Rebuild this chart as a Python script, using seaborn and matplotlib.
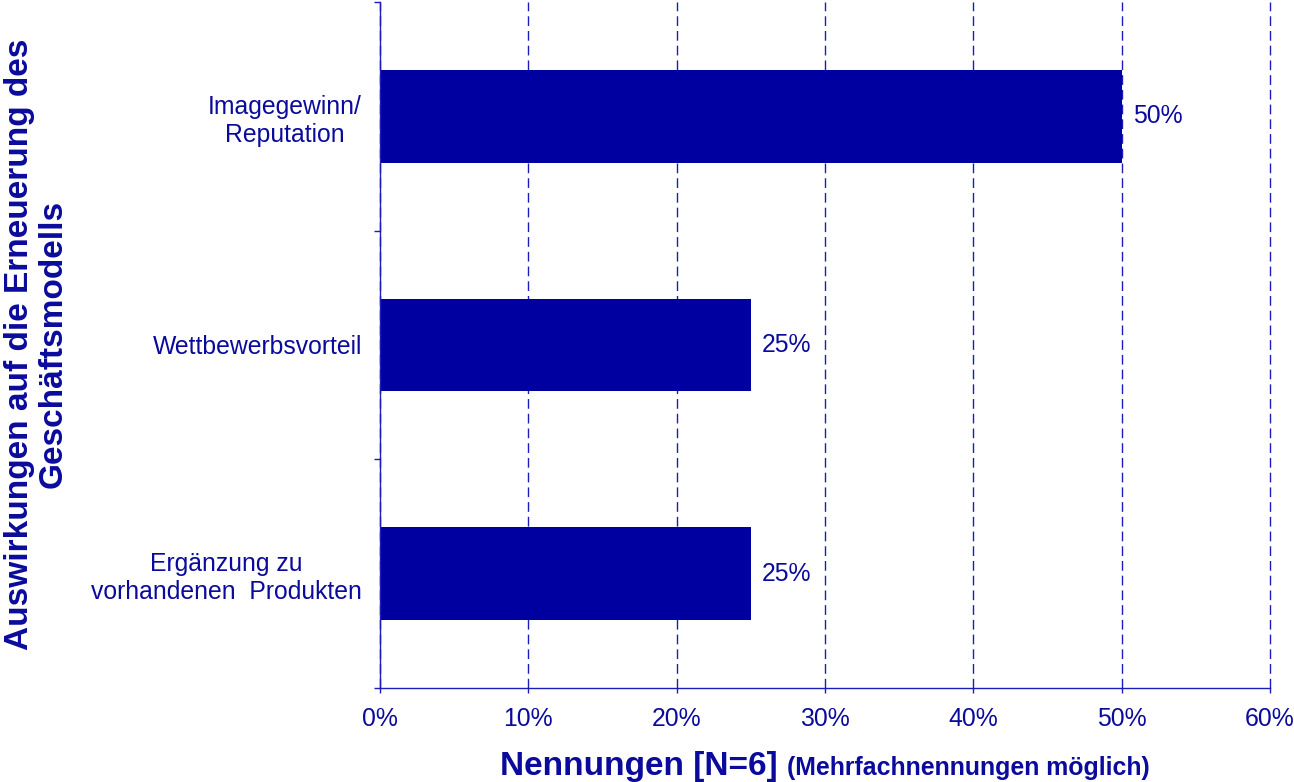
import matplotlib
matplotlib.use("Agg")
import matplotlib.pyplot as plt
import seaborn as sns
import pandas as pd
import numpy as np
from matplotlib.ticker import FixedLocator, PercentFormatter

categories = ["Imagegewinn/\nReputation", "Wettbewerbsvorteil", "Ergänzung zu\nvorhandenen  Produkten"]
values = [0.50, 0.25, 0.25]
value_labels = ["50%", "25%", "25%"]
x_ticks = [0.0, 0.1, 0.2, 0.3, 0.4, 0.5, 0.6]

BAR = "#0000A0"
TXT = "#0A0A9C"
LINE = "#1C1CB8"

sns.set_theme(style="white")
plt.rcParams["font.family"] = ["Liberation Sans", "DejaVu Sans"]

df = pd.DataFrame({"cat": categories, "val": values})

fig = plt.figure(figsize=(12.94, 7.82), dpi=100)
ax = fig.add_axes([380 / 1294, 1 - 688 / 782, 890 / 1294, 686 / 782])

sns.barplot(data=df, y="cat", x="val", order=categories, orient="h",
            color=BAR, saturation=1, width=0.406, ax=ax, edgecolor=BAR, linewidth=0)

ax.set_xlim(0, 0.6)
ax.set_ylim(2.5, -0.5)
ax.xaxis.set_major_locator(FixedLocator(x_ticks))
ax.xaxis.set_major_formatter(PercentFormatter(1.0, decimals=0))

ax.grid(axis="x", color=LINE, linestyle=(0, (7, 3.6)), linewidth=1.0)
ax.grid(axis="y", visible=False)
ax.set_axisbelow(True)
for gl in ax.get_xgridlines():
    gl.set_clip_on(False)

for s in ["top", "right"]:
    ax.spines[s].set_visible(False)
for s in ["left", "bottom"]:
    ax.spines[s].set_color(LINE)
    ax.spines[s].set_linewidth(1.0)

ax.tick_params(axis="x", which="major", direction="out", length=3.6, width=1.0,
               color=LINE, labelcolor=TXT, labelsize=17.8, pad=10, bottom=True)
ax.tick_params(axis="y", which="major", length=0, labelcolor=TXT, labelsize=17.8, pad=13)
ax.yaxis.set_minor_locator(FixedLocator([-0.5, 0.5, 1.5, 2.5]))
ax.tick_params(axis="y", which="minor", direction="out", length=4.5, width=1.0, color=LINE, left=True)

for lbl in ax.get_yticklabels():
    lbl.set_multialignment("center")
    lbl.set_linespacing(1.2)

ax.set_xlabel("")
ax.set_ylabel("")

for i, (v, t) in enumerate(zip(values, value_labels)):
    ax.annotate(t, xy=(v, i), xytext=(8, 0), textcoords="offset points",
                va="center", ha="left", fontsize=17.8, color=TXT)

fig.text(500 / 1294, 1 - 775 / 782, "Nennungen [N=6]", fontsize=24, fontweight="bold",
         color=TXT, ha="left", va="baseline")
fig.text(787 / 1294, 1 - 775 / 782, "(Mehrfachnennungen möglich)", fontsize=17.9,
         fontweight="bold", color=TXT, ha="left", va="baseline")
fig.text(36 / 1294, 1 - 344 / 782, "Auswirkungen auf die Erneuerung des\nGeschäftsmodells",
         fontsize=24, fontweight="bold", color=TXT, rotation=90, ha="center", va="center",
         multialignment="center", linespacing=1.1)

fig.savefig("out.png", dpi=100, facecolor="white")
